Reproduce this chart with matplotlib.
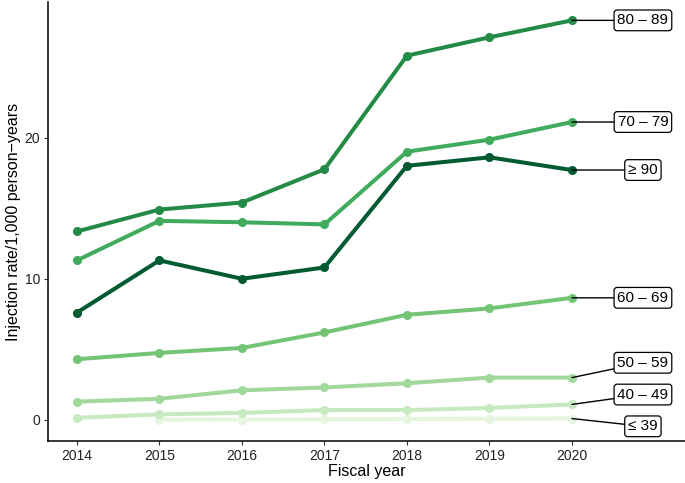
import matplotlib
matplotlib.use("Agg")
import matplotlib.pyplot as plt

plt.rcParams['font.family'] = ['Liberation Sans', 'DejaVu Sans']

years = [2014, 2015, 2016, 2017, 2018, 2019, 2020]
groups = ["≤ 39", "40 – 49", "50 – 59", "60 – 69", "70 – 79", "80 – 89", "≥ 90"]
values = {
    "≤ 39":    [None, 0.02, 0.03, 0.05, 0.07, 0.08, 0.1],
    "40 – 49": [0.15, 0.4, 0.5, 0.7, 0.7, 0.85, 1.1],
    "50 – 59": [1.3, 1.5, 2.1, 2.3, 2.6, 3.0, 3.0],
    "60 – 69": [4.3, 4.75, 5.1, 6.2, 7.45, 7.9, 8.65],
    "70 – 79": [11.3, 14.1, 14.0, 13.85, 19.0, 19.85, 21.1],
    "80 – 89": [13.35, 14.9, 15.4, 17.75, 25.8, 27.1, 28.3],
    "≥ 90":    [7.6, 11.3, 10.0, 10.8, 18.0, 18.6, 17.7],
}
colors = {
    "≤ 39": "#e5f5e0", "40 – 49": "#c7e9c0", "50 – 59": "#a1d99b",
    "60 – 69": "#74c476", "70 – 79": "#41ab5d", "80 – 89": "#238b45",
    "≥ 90": "#005a32",
}
label_y = {
    "≤ 39": -0.45, "40 – 49": 1.8, "50 – 59": 4.05, "60 – 69": 8.65,
    "70 – 79": 21.1, "80 – 89": 28.3, "≥ 90": 17.7,
}

fig = plt.figure(figsize=(6.85, 4.83), dpi=100)
ax = fig.add_axes([48/685, 42/483, (685-48)/685, (441-2)/483])

for g in groups:
    xs = [x for x, v in zip(years, values[g]) if v is not None]
    ys = [v for v in values[g] if v is not None]
    ax.plot(xs, ys, color=colors[g], lw=2.9, marker='o', ms=5.5,
            solid_capstyle='round', zorder=3)
    ax.annotate(g, xy=(xs[-1], ys[-1]), xytext=(2020.86, label_y[g]),
                ha='center', va='center', fontsize=11,
                bbox=dict(boxstyle='round,pad=0.22,rounding_size=0.2',
                          fc='white', ec='black', lw=0.9),
                arrowprops=dict(arrowstyle='-', color='black', lw=1.0,
                                shrinkA=0, shrinkB=0),
                zorder=4)

ax.set_xlim(2013.65, 2021.37)
ax.set_ylim(-1.49, 29.6)
ax.set_xticks(years)
ax.set_yticks([0, 10, 20])
ax.tick_params(labelsize=10, length=3, width=0.8, color='#333333',
               labelcolor='#222222', pad=2.5)
for s in ['top', 'right']:
    ax.spines[s].set_visible(False)
for s in ['left', 'bottom']:
    ax.spines[s].set_linewidth(1.1)
ax.set_xlabel("Fiscal year", fontsize=11.5, labelpad=1)
ax.set_ylabel("Injection rate/1,000 person\u2212years", fontsize=11.5, labelpad=3)

fig.savefig("out.png", dpi=100)
